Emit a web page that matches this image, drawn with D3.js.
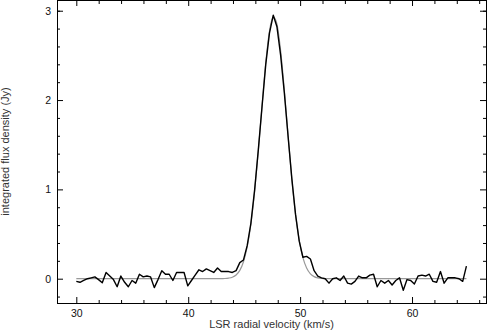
<!DOCTYPE html>
<html>
<head>
<meta charset="utf-8">
<script src="https://cdn.jsdelivr.net/npm/d3@7"></script>
<style>
  body { margin: 0; background: #fff; }
  svg { display: block; }
  .tick text { font-family: "Liberation Sans", Arial, sans-serif; font-size: 10.5px; fill: #111; }
  .axisText { font-family: "Liberation Sans", Arial, sans-serif; font-size: 11px; fill: #333; }
</style>
</head>
<body>
<div id="my_dataviz"></div>
<script>
// channel velocities (km/s)
var velocity = [30.00, 30.33, 30.66, 31.00, 31.33, 31.66, 31.99, 32.32, 32.66, 32.99,
  33.32, 33.65, 33.98, 34.32, 34.65, 34.98, 35.31, 35.64, 35.98, 36.31,
  36.64, 36.97, 37.30, 37.64, 37.97, 38.30, 38.63, 38.96, 39.30, 39.63,
  39.96, 40.29, 40.62, 40.96, 41.29, 41.62, 41.95, 42.28, 42.62, 42.95,
  43.28, 43.61, 43.94, 44.28, 44.61, 44.94, 45.27, 45.60, 45.94, 46.27,
  46.60, 46.93, 47.26, 47.60, 47.93, 48.26, 48.59, 48.92, 49.26, 49.59,
  49.92, 50.25, 50.58, 50.92, 51.25, 51.58, 51.91, 52.24, 52.58, 52.91,
  53.24, 53.57, 53.90, 54.24, 54.57, 54.90, 55.23, 55.56, 55.90, 56.23,
  56.56, 56.89, 57.22, 57.56, 57.89, 58.22, 58.55, 58.88, 59.22, 59.55,
  59.88, 60.21, 60.54, 60.88, 61.21, 61.54, 61.87, 62.20, 62.54, 62.87,
  63.20, 63.53, 63.86, 64.20, 64.53, 64.86];

// observed integrated flux density (Jy)
var flux = [-0.03, -0.04, -0.02, 0.00, 0.01, 0.02, -0.01, -0.045, 0.07, 0.03,
  -0.01, -0.09, 0.03, -0.04, -0.09, -0.02, -0.05, 0.05, 0.02, 0.03,
  0.02, -0.10, -0.01, 0.09, 0.05, 0.05, -0.02, 0.07, 0.07, 0.07,
  -0.08, -0.02, 0.04, 0.10, 0.08, 0.11, 0.09, 0.07, 0.12, 0.08,
  0.08, 0.08, 0.07, 0.09, 0.18, 0.21, 0.37, 0.62, 1.00, 1.45,
  1.93, 2.40, 2.75, 2.95, 2.82, 2.50, 2.08, 1.60, 1.12, 0.72,
  0.42, 0.24, 0.25, 0.22, 0.09, 0.03, 0.01, 0.00, -0.05, 0.00,
  0.01, -0.02, 0.03, -0.05, -0.06, -0.03, 0.03, 0.01, 0.01, 0.04,
  0.05, -0.09, -0.02, -0.05, -0.02, -0.07, -0.02, 0.01, -0.13, -0.01,
  -0.02, -0.06, 0.03, 0.04, 0.03, 0.05, -0.03, -0.04, 0.08, -0.05,
  0.01, 0.01, 0.01, 0.00, -0.03, 0.14];

// fitted profile (Jy)
var fit = [0, 0, 0, 0, 0, 0, 0, 0, 0, 0,
  0, 0, 0, 0, 0, 0, 0, 0, 0, 0,
  0, 0, 0, 0, 0, 0, 0, 0, 0, 0,
  0, 0, 0, 0, 0, 0, 0, 0, 0, 0,
  0.002, 0.007, 0.017, 0.042, 0.093, 0.19, 0.355, 0.61, 0.985, 1.44,
  1.94, 2.42, 2.77, 2.93, 2.85, 2.55, 2.11, 1.61, 1.11, 0.72,
  0.43, 0.235, 0.119, 0.054, 0.023, 0.009, 0.003, 0.001, 0, 0,
  0, 0, 0, 0, 0, 0, 0, 0, 0, 0,
  0, 0, 0, 0, 0, 0, 0, 0, 0, 0,
  0, 0, 0, 0, 0, 0, 0, 0, 0, 0,
  0, 0, 0, 0, 0, 0];

var xMajor = [30, 40, 50, 60];
var xMinor = [32, 34, 36, 38, 42, 44, 46, 48, 52, 54, 56, 58, 62, 64, 66];
var yMajor = [0, 1, 2, 3];
var yMinor = [-0.2, 0.2, 0.4, 0.6, 0.8, 1.2, 1.4, 1.6, 1.8, 2.2, 2.4, 2.6, 2.8, 3.0];

var W = 488, H = 331;
// plot box edges in pixels
var box = { left: 57, right: 486, top: 0, bottom: 303 };

var svg = d3.select("#my_dataviz")
  .append("svg")
    .attr("width", W)
    .attr("height", H);

var x = d3.scaleLinear()
    .domain([28.275, 66.61])
    .range([box.left, box.right]);

var y = d3.scaleLinear()
    .domain([-0.272, 3.12])
    .range([box.bottom, box.top]);

/*********************
 * AXES (ticks point inward on all four sides)
 *********************/
function addAxis(axis, tx, ty) {
  var g = svg.append("g")
    .attr("transform", "translate(" + tx + "," + ty + ")")
    .call(axis);
  g.select(".domain").remove();
  g.selectAll(".tick line").attr("stroke", "#000");
  return g;
}

addAxis(d3.axisBottom(x).tickValues(xMajor).tickSize(-6).tickPadding(7).tickFormat(d3.format("d")), 0, box.bottom);
addAxis(d3.axisBottom(x).tickValues(xMinor).tickSize(-3).tickFormat(""), 0, box.bottom);
addAxis(d3.axisTop(x).tickValues(xMajor).tickSize(-6).tickFormat(""), 0, box.top);
addAxis(d3.axisTop(x).tickValues(xMinor).tickSize(-4).tickFormat(""), 0, box.top);

addAxis(d3.axisLeft(y).tickValues(yMajor).tickSize(-6).tickPadding(6).tickFormat(d3.format("d")), box.left, 0);
addAxis(d3.axisLeft(y).tickValues(yMinor).tickSize(-3).tickFormat(""), box.left, 0);
addAxis(d3.axisRight(y).tickValues(yMajor).tickSize(-6).tickFormat(""), box.right, 0);
addAxis(d3.axisRight(y).tickValues(yMinor).tickSize(-3).tickFormat(""), box.right, 0);

// frame
svg.append("rect")
  .attr("x", box.left + 0.5)
  .attr("y", box.top + 0.5)
  .attr("width", box.right - box.left)
  .attr("height", box.bottom - box.top)
  .attr("fill", "none")
  .attr("stroke", "#000")
  .attr("stroke-width", 1);

/*********************
 * LINES
 *********************/
var fitLine = d3.line()
  .x(function (d, i) { return x(velocity[i]); })
  .y(function (d) { return y(d); })
  .curve(d3.curveMonotoneX);

svg.append("path")
  .datum(fit)
  .attr("d", fitLine)
  .attr("fill", "none")
  .attr("stroke", "#999")
  .attr("stroke-width", 1.2);

var specLine = d3.line()
  .x(function (d, i) { return x(velocity[i]); })
  .y(function (d) { return y(d); });

svg.append("path")
  .datum(flux)
  .attr("d", specLine)
  .attr("fill", "none")
  .attr("stroke", "#000")
  .attr("stroke-width", 1.4)
  .attr("stroke-linejoin", "round");

/*********************
 * AXIS TITLES
 *********************/
svg.append("text")
  .attr("class", "axisText")
  .attr("x", (box.left + box.right) / 2)
  .attr("y", 328)
  .style("text-anchor", "middle")
  .text("LSR radial velocity (km/s)");

svg.append("text")
  .attr("class", "axisText")
  .attr("transform", "translate(9," + ((box.top + box.bottom) / 2) + ") rotate(-90)")
  .style("text-anchor", "middle")
  .text("integrated flux density (Jy)");
</script>
</body>
</html>
